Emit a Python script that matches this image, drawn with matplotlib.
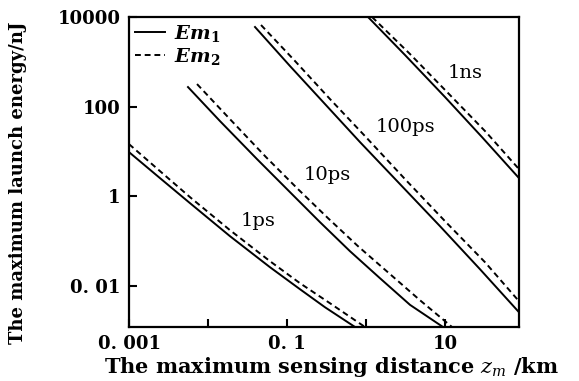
import matplotlib
matplotlib.use("Agg")
import matplotlib.pyplot as plt
from matplotlib.ticker import FixedLocator, FixedFormatter, NullLocator

plt.rcParams["font.family"] = "DejaVu Serif"
plt.rcParams["mathtext.fontset"] = "dejavuserif"

# values (x in km, y in nJ)
x_1ps_em1 = [0.001, 0.002469, 0.00592, 0.01899, 0.06092, 0.1461, 0.3027, 0.7259]
y_1ps_em1 = [9.70, 2.549, 0.7049, 0.1293, 0.02628, 0.008484, 0.003363, 0.00122]
x_1ps_em2 = [0.001, 0.002469, 0.00592, 0.01899, 0.06092, 0.1461, 0.3502, 0.9712]
y_1ps_em2 = [14.63, 3.652, 0.9597, 0.1760, 0.03578, 0.01155, 0.004130, 0.00122]

x_10ps_em1 = [0.005581, 0.01418, 0.04173, 0.1091, 0.2617, 0.6271, 1.503, 3.606, 9.434]
y_10ps_em1 = [273.8, 47.71, 6.768, 1.241, 0.2655, 0.05980, 0.01493, 0.003805, 0.00122]
x_10ps_em2 = [0.007258, 0.01791, 0.05424, 0.1378, 0.3304, 0.7920, 1.955, 4.826, 12.26]
y_10ps_em2 = [319.6, 58.61, 7.499, 1.448, 0.3262, 0.07734, 0.01930, 0.004819, 0.00122]

x_100ps_em1 = [0.03935, 0.1091, 0.3027, 0.8395, 2.694, 8.643, 27.73, 86.43]
y_100ps_em1 = [5981, 805.9, 114.3, 16.21, 1.872, 0.2162, 0.02371, 0.002602]
x_100ps_em2 = [0.04687, 0.1263, 0.3502, 0.9712, 3.117, 10.0, 32.08, 86.43]
y_100ps_em2 = [6628, 1042, 147.8, 22.07, 2.421, 0.2795, 0.03398, 0.004578]

x_1ns_em1 = [1.060, 3.117, 10.0, 29.40, 86.43]
y_1ns_em1 = [10000, 1418, 163.8, 20.96, 2.549]
x_1ns_em2 = [1.191, 3.606, 11.57, 33.04, 86.43]
y_1ns_em2 = [10000, 1493, 181.5, 27.10, 4.046]

pulse_labels = ["1ps", "10ps", "100ps", "1ns"]
label_x = [0.0430, 0.3208, 3.12, 17.9]
label_y = [0.2795, 2.974, 35.05, 562]

x_ticks = [0.001, 0.01, 0.1, 1, 10]
x_ticklabels = ["0. 001", "", "0. 1", "", "10"]
y_ticks = [0.01, 1, 100, 10000]
y_ticklabels = ["0. 01", "1", "100", "10000"]

fig = plt.figure(figsize=(5.79, 3.81), dpi=100)
ax = fig.add_axes([0.2228, 0.1417, 0.6736, 0.8137])

lw = 1.4
em1_x = [x_1ps_em1, x_10ps_em1, x_100ps_em1, x_1ns_em1]
em1_y = [y_1ps_em1, y_10ps_em1, y_100ps_em1, y_1ns_em1]
em2_x = [x_1ps_em2, x_10ps_em2, x_100ps_em2, x_1ns_em2]
em2_y = [y_1ps_em2, y_10ps_em2, y_100ps_em2, y_1ns_em2]

for i in range(4):
    l1, = ax.plot(em1_x[i], em1_y[i], color="black", lw=lw, ls="-")
    l2, = ax.plot(em2_x[i], em2_y[i], color="black", lw=lw, ls=(0, (3, 2)))

ax.set_xscale("log")
ax.set_yscale("log")
ax.set_xlim(0.001, 86.43)
ax.set_ylim(0.00122, 10000)

for i in range(4):
    ax.text(label_x[i], label_y[i], pulse_labels[i], fontsize=14,
            ha="center", va="center")

ax.xaxis.set_major_locator(FixedLocator(x_ticks))
ax.xaxis.set_major_formatter(FixedFormatter(x_ticklabels))
ax.yaxis.set_major_locator(FixedLocator(y_ticks))
ax.yaxis.set_major_formatter(FixedFormatter(y_ticklabels))
ax.xaxis.set_minor_locator(NullLocator())
ax.yaxis.set_minor_locator(NullLocator())
ax.tick_params(direction="in", length=6, width=1.5, labelsize=13, pad=6)
for lab in ax.get_xticklabels() + ax.get_yticklabels():
    lab.set_fontweight("bold")
for sp in ax.spines.values():
    sp.set_linewidth(1.6)

leg = ax.legend([l1, l2], [r"$\mathbfit{Em}_{\mathbf{1}}$", r"$\mathbfit{Em}_{\mathbf{2}}$"],
                loc="upper left", frameon=False, fontsize=14, handlelength=1.55,
                borderaxespad=0.1, borderpad=0.2, labelspacing=0.1,
                handletextpad=0.45)

ax.set_xlabel(r"The maximum sensing distance $z_m$ /km", fontsize=15,
              fontweight="bold", va="center")
ax.xaxis.set_label_coords(0.52, -0.129)
ax.set_ylabel("The maximum launch energy/nJ", fontsize=13, fontweight="bold",
              va="center")
ax.yaxis.set_label_coords(-0.285, 0.465)

fig.savefig("out.png", dpi=100)
